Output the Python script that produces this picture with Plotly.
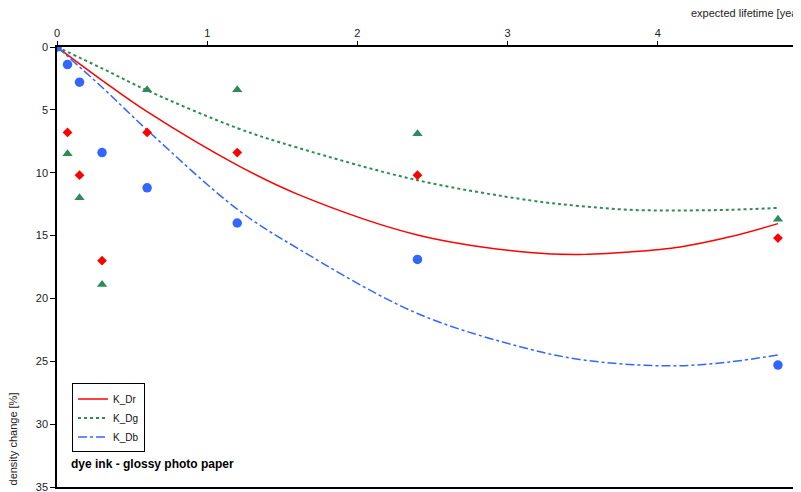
import plotly.graph_objects as go

# measured points (years, density change %)
years = [0, 0.07, 0.15, 0.3, 0.6, 1.2, 2.4, 4.8]
k_dr = [0, 6.8, 10.2, 17.0, 6.8, 8.4, 10.2, 15.2]
k_dg = [0, 8.5, 12.0, 18.9, 3.4, 3.4, 6.9, 13.7]
k_db = [0, 1.4, 2.8, 8.4, 11.2, 14.0, 16.9, 25.3]

# trend lines
trend_x = [0, 0.3, 0.6, 1.2, 1.6, 2.4, 3.15, 3.48, 3.81, 4.15, 4.48, 4.8]
trend_dr = [0, 2.65, 5.15, 9.4, 11.7, 14.95, 16.35, 16.5, 16.3, 15.9, 15.1, 14.05]
trend_dg = [0, 1.7, 3.45, 6.45, 8.0, 10.6, 12.2, 12.65, 12.95, 13.0, 12.95, 12.8]
trend_db = [0, 3.2, 6.6, 12.9, 16.0, 21.2, 24.05, 24.85, 25.25, 25.35, 25.05, 24.5]

red = "#FF0000"
green = "#2E8B57"
blue = "#3366FF"

fig = go.Figure()

# trend lines (these go in the legend)
fig.add_trace(go.Scatter(x=trend_x, y=trend_dr, mode="lines", name="K_Dr",
                         line=dict(color=red, width=1.5, shape="spline")))
fig.add_trace(go.Scatter(x=trend_x, y=trend_dg, mode="lines", name="K_Dg",
                         line=dict(color=green, width=2, dash="dot", shape="spline")))
fig.add_trace(go.Scatter(x=trend_x, y=trend_db, mode="lines", name="K_Db",
                         line=dict(color=blue, width=1.5, dash="dashdot", shape="spline")))

# markers
fig.add_trace(go.Scatter(x=years, y=k_dg, mode="markers", showlegend=False,
                         marker=dict(symbol="triangle-up", size=9, color=green)))
fig.add_trace(go.Scatter(x=years, y=k_dr, mode="markers", showlegend=False,
                         marker=dict(symbol="diamond", size=7.5, color=red)))
fig.add_trace(go.Scatter(x=years, y=k_db, mode="markers", showlegend=False,
                         marker=dict(symbol="circle", size=9.5, color=blue)))

# the page body adds an 8px offset, so margins are trimmed by that much
fig.update_layout(
    width=801,
    height=492,
    margin=dict(l=49, r=1, t=39, b=13),
    paper_bgcolor="white",
    plot_bgcolor="white",
    font=dict(family="Liberation Sans, Arial", size=11, color="#222"),
    xaxis=dict(
        side="top",
        range=[0, 5],
        dtick=1,
        showgrid=False,
        zeroline=False,
        showline=True,
        linecolor="black",
        linewidth=1.5,
        mirror=True,
        ticks="outside",
        ticklen=4,
        tickcolor="black",
    ),
    yaxis=dict(
        range=[35, 0],
        dtick=5,
        showgrid=False,
        zeroline=False,
        showline=True,
        linecolor="black",
        linewidth=1.5,
        ticks="outside",
        ticklen=5,
        tickcolor="black",
    ),
    legend=dict(
        x=0.02,
        y=0.157,
        xanchor="left",
        yanchor="middle",
        bordercolor="black",
        borderwidth=1,
        bgcolor="white",
        font=dict(size=10, color="#111"),
        itemwidth=30,
        tracegroupgap=0,
    ),
    annotations=[
        dict(text="expected lifetime [years]", xref="paper", yref="paper",
             x=0.8415, y=1.0773, xanchor="left", yanchor="middle",
             showarrow=False, font=dict(size=11)),
        dict(text="density change [%]", xref="paper", yref="paper",
             x=-0.0586, y=0.0, xanchor="center", yanchor="bottom",
             textangle=-90, showarrow=False, font=dict(size=11)),
        dict(text="<b>dye ink - glossy photo paper</b>", xref="paper", yref="paper",
             x=0.016, y=0.052, xanchor="left", yanchor="middle",
             showarrow=False, font=dict(size=12, color="black")),
    ],
)

fig.write_html("out.html")
